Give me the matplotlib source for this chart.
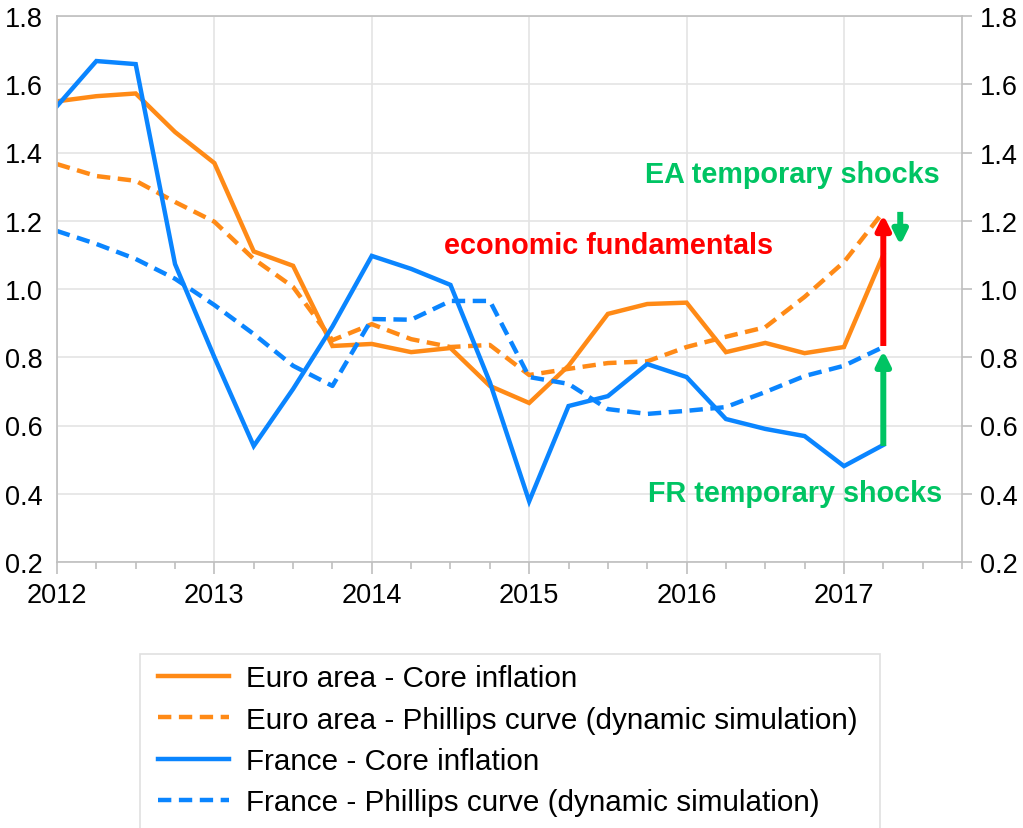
import matplotlib.pyplot as plt
from matplotlib.patches import Rectangle
import numpy as np

# quarterly data, 2012Q1 .. 2017Q2
years = ['2012', '2013', '2014', '2015', '2016', '2017']
ea_core = [1.55, 1.565, 1.573, 1.46, 1.369, 1.11, 1.068, 0.833, 0.839, 0.815, 0.827,
           0.716, 0.666, 0.775, 0.927, 0.956, 0.96, 0.815, 0.842, 0.812, 0.83, 1.10]
ea_pc = [1.366, 1.331, 1.317, 1.255, 1.197, 1.088, 1.006, 0.85, 0.897, 0.853, 0.83,
         0.836, 0.748, 0.766, 0.783, 0.788, 0.83, 0.86, 0.888, 0.977, 1.079, 1.226]
fr_core = [1.536, 1.668, 1.659, 1.073, 0.80, 0.54, 0.707, 0.89, 1.097, 1.059, 1.012,
           0.727, 0.378, 0.657, 0.686, 0.78, 0.742, 0.619, 0.59, 0.569, 0.481, 0.543]
fr_pc = [1.17, 1.132, 1.088, 1.03, 0.953, 0.868, 0.775, 0.716, 0.912, 0.91, 0.965,
         0.965, 0.742, 0.722, 0.648, 0.634, 0.643, 0.654, 0.698, 0.745, 0.775, 0.83]
labels = ['Euro area - Core inflation',
          'Euro area - Phillips curve (dynamic simulation)',
          'France - Core inflation',
          'France - Phillips curve (dynamic simulation)']

ORANGE = '#FF8A16'
BLUE = '#0A85FF'
GREEN = '#00C463'
RED = '#FF0000'
GRID = '#E4E4E4'
SPINE = '#BFBFBF'

plt.rcParams['font.family'] = ['Liberation Sans', 'DejaVu Sans']

q = np.arange(len(ea_core))

fig = plt.figure(figsize=(10.23, 8.29), dpi=100)
ax = fig.add_axes([57 / 1023, 1 - 563 / 829, (962 - 57) / 1023, (563 - 17) / 829])

dash = (0, (3, 1.7))
lw = 3.2
h1, = ax.plot(q, ea_core, color=ORANGE, lw=lw, solid_joinstyle='miter')
h2, = ax.plot(q, ea_pc, color=ORANGE, lw=lw, linestyle=dash, dash_capstyle='butt')
h3, = ax.plot(q, fr_core, color=BLUE, lw=lw, solid_joinstyle='miter')
h4, = ax.plot(q, fr_pc, color=BLUE, lw=lw, linestyle=dash, dash_capstyle='butt')

ax.set_xlim(0, 23)
ax.set_ylim(0.2, 1.8)
ax.set_xticks(np.arange(0, 21, 4))
ax.set_xticklabels(years)
ax.set_xticks(np.arange(0, 24), minor=True)
ax.set_yticks(np.arange(0.2, 1.81, 0.2))
ax.set_yticklabels([f'{v:.1f}' for v in np.arange(0.2, 1.81, 0.2)])
ax.grid(True, which='major', color=GRID, lw=1.2)
ax.set_axisbelow(True)
for s in ax.spines.values():
    s.set_color(SPINE)
    s.set_linewidth(1.2)

ax.tick_params(axis='x', which='major', length=8.5, width=1.2, color=SPINE,
               labelsize=19.5, pad=6)
ax.tick_params(axis='x', which='minor', length=5, width=1.2, color=SPINE)
ax.tick_params(axis='y', length=0, labelsize=19.5, pad=10)

ax2 = ax.twinx()
ax2.set_ylim(0.2, 1.8)
ax2.set_yticks(np.arange(0.2, 1.81, 0.2))
ax2.set_yticklabels([f'{v:.1f}' for v in np.arange(0.2, 1.81, 0.2)])
ax2.tick_params(axis='y', length=7, width=1.2, color=SPINE, labelsize=19.5, pad=6)
for s in ax2.spines.values():
    s.set_visible(False)

# arrows
def arrow(x, y0, y1, color):
    ax.annotate('', xy=(x, y1), xytext=(x, y0),
                arrowprops=dict(arrowstyle='-|>,head_length=0.85,head_width=0.42',
                                lw=4.3, color=color, shrinkA=0, shrinkB=0,
                                capstyle='butt', joinstyle='round'))

arrow(21, 0.833, 1.218, RED)
arrow(21, 0.54, 0.820, GREEN)
arrow(21.43, 1.226, 1.128, GREEN)

ax.text(22.42, 1.314, 'EA temporary shocks', color=GREEN, fontsize=20.7,
        fontweight='bold', ha='right', va='baseline')
ax.text(14.02, 1.106, 'economic fundamentals', color=RED, fontsize=20.7,
        fontweight='bold', ha='center', va='baseline')
ax.text(22.5, 0.379, 'FR temporary shocks', color=GREEN, fontsize=20.7,
        fontweight='bold', ha='right', va='baseline')

# legend frame drawn by hand, runs off the bottom of the figure
fig.patches.append(Rectangle((140 / 1023, -0.05), (880 - 140) / 1023, 0.05 + 1 - 655 / 829,
                             transform=fig.transFigure, facecolor='white',
                             edgecolor='#E0E0E0', lw=1.2, zorder=0))
leg = fig.legend([h1, h2, h3, h4], labels, loc='upper left',
                 bbox_to_anchor=(148 / 1023, 1 - 655 / 829),
                 prop={'size': 21.3},
                 frameon=False, handlelength=2.4, handletextpad=0.55,
                 labelspacing=0.45, borderpad=0.35, borderaxespad=0)

fig.savefig('out.png', dpi=100)
